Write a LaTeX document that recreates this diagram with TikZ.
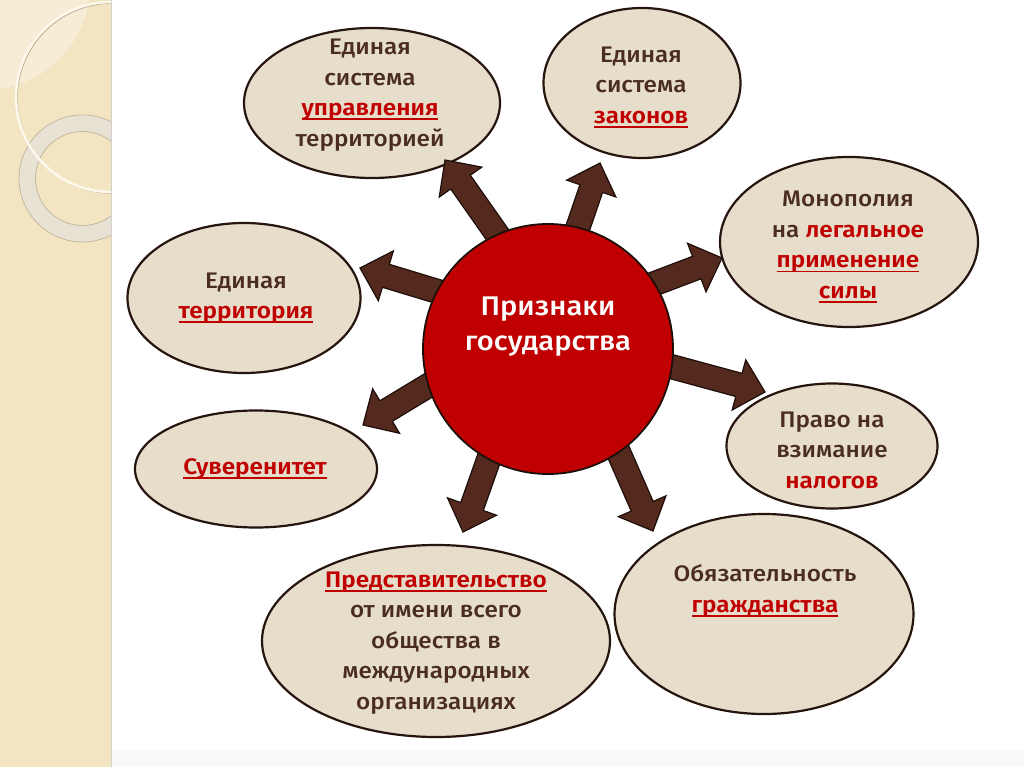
\documentclass[tikz,border=0pt]{standalone}
\usepackage{fontspec}
\setmainfont{Fira Sans}[UprightFont=* Medium, BoldFont=* SemiBold, FakeStretch=1.08]
\usetikzlibrary{calc,shapes.geometric}
\definecolor{ellfill}{RGB}{230,221,202}
\definecolor{ellline}{RGB}{38,20,14}
\definecolor{arrfill}{RGB}{84,42,30}
\definecolor{arrline}{RGB}{30,14,10}
\definecolor{redc}{RGB}{192,0,0}
\definecolor{txtbrown}{RGB}{74,44,34}
\definecolor{stripc}{RGB}{243,228,194}
\definecolor{lensc}{RGB}{247,237,214}
\definecolor{ringc}{RGB}{232,226,212}
\definecolor{ringedge}{RGB}{196,184,160}
\definecolor{bigring}{RGB}{252,248,236}
\definecolor{bigshadow}{RGB}{190,172,140}
\newsavebox\ulbox
\newcommand\myul[1]{\sbox\ulbox{#1}\rlap{\rule[-4.5pt]{\wd\ulbox}{1.7pt}}\usebox\ulbox}
\newcommand\rb[1]{{\bfseries\color{redc}#1}}
\newcommand\ru[1]{{\bfseries\color{redc}\myul{#1}}}
\newcommand\blockarrow[2]{%
  \coordinate (hb) at ($(#2)!27pt!(#1)$);
  \draw[barrow] ($(#1)!12pt!90:(#2)$) -- ($(hb)!12pt!90:(#2)$) -- ($(hb)!26pt!90:(#2)$) -- (#2)
    -- ($(hb)!26pt!-90:(#2)$) -- ($(hb)!12pt!-90:(#2)$) -- ($(#1)!12pt!-90:(#2)$) -- cycle;}
\tikzset{
  ell/.style={ellipse, draw=ellline, line width=2.2pt, fill=ellfill, inner sep=0pt},
  barrow/.style={fill=arrfill, draw=arrline, line width=1.2pt, line join=miter},
  txt/.style={text=txtbrown, align=center, font=\fontsize{22.5}{30.5}\selectfont, inner sep=0pt},
}
\begin{document}
\begin{tikzpicture}[x=1pt,y=-1pt]
\useasboundingbox (0,0) rectangle (1024,767);
% left decorative strip
\fill[gray!5] (111,750) rectangle (1024,767);
\fill[stripc] (0,0) rectangle (111,767);
\begin{scope}
  \clip (0,0) rectangle (111,767);
  \fill[lensc] (-15,-15) circle (105pt);
  \fill[ringc, even odd rule] (82.5,178.5) circle (63.5pt) (82.5,178.5) circle (47pt);
  \draw[ringedge, line width=0.8pt] (82.5,178.5) circle (63.5pt) (82.5,178.5) circle (47pt);
  \draw[bigshadow, line width=1.2pt] (112.2,98.2) circle (95pt);
  \draw[bigring, line width=2.6pt] (111,97) circle (95pt);
\end{scope}
\draw[gray!35, line width=1.5pt] (111.5,0) -- (111.5,767);

% ellipses
\node[ell, minimum width=256pt, minimum height=150pt] (e1) at (372,103) {};
\node[ell, minimum width=197pt, minimum height=150pt] (e2) at (642,83) {};
\node[ell, minimum width=258pt, minimum height=170pt] (e3) at (849,242) {};
\node[ell, minimum width=211pt, minimum height=125pt] (e4) at (832,446) {};
\node[ell, minimum width=299pt, minimum height=200pt] (e5) at (764,614) {};
\node[ell, minimum width=348pt, minimum height=192pt] (e6) at (436,641) {};
\node[ell, minimum width=242pt, minimum height=117pt] (e7) at (256,469) {};
\node[ell, minimum width=233pt, minimum height=150pt] (e8) at (244,298) {};

% arrow end points
\coordinate (s1) at (504,244); \coordinate (p1) at (445,160);
\coordinate (s2) at (575,236); \coordinate (p2) at (600,163);
\coordinate (s3) at (643,288); \coordinate (p3) at (722,258);
\coordinate (s4) at (658,363); \coordinate (p4) at (765,392);
\coordinate (s5) at (607,426); \coordinate (p5) at (653,531);
\coordinate (s6) at (498,433); \coordinate (p6) at (463,532);
\coordinate (s7) at (444,376); \coordinate (p7) at (363,425);
\coordinate (s8) at (446,294); \coordinate (p8) at (360,268);
\blockarrow{s1}{p1}
\blockarrow{s2}{p2}
\blockarrow{s3}{p3}
\blockarrow{s4}{p4}
\blockarrow{s5}{p5}
\blockarrow{s6}{p6}
\blockarrow{s7}{p7}
\blockarrow{s8}{p8}

% centre circle
\node[circle, draw=arrline, line width=1.8pt, fill=redc, minimum size=250pt, inner sep=0pt] (c) at (548,349) {};
\node[text=white, align=center, font=\fontsize{27}{35}\selectfont, inner sep=0pt] (tc) at (548,327) {Признаки\\государства};

% texts
\node[txt] (t1) at (370,95) {Единая\\система\\\ru{управления}\\территорией};
\node[txt] (t2) at (641,87) {Единая\\система\\\ru{законов}};
\node[txt] (t3) at (848,247) {Монополия\\на \rb{легальное}\\\ru{применение}\\\ru{силы}};
\node[txt] (t4) at (832,450) {Право на\\взимание\\\rb{налогов}};
\node[txt] (t5) at (765,591) {Обязательность\\\ru{гражданства}};
\node[txt] (t6) at (436,643) {\ru{Представительство}\\от имени всего\\общества в\\международных\\организациях};
\node[txt] (t7) at (255,469) {\ru{Суверенитет}};
\node[txt] (t8) at (246,298) {Единая\\\ru{территория}};
\end{tikzpicture}
\end{document}
